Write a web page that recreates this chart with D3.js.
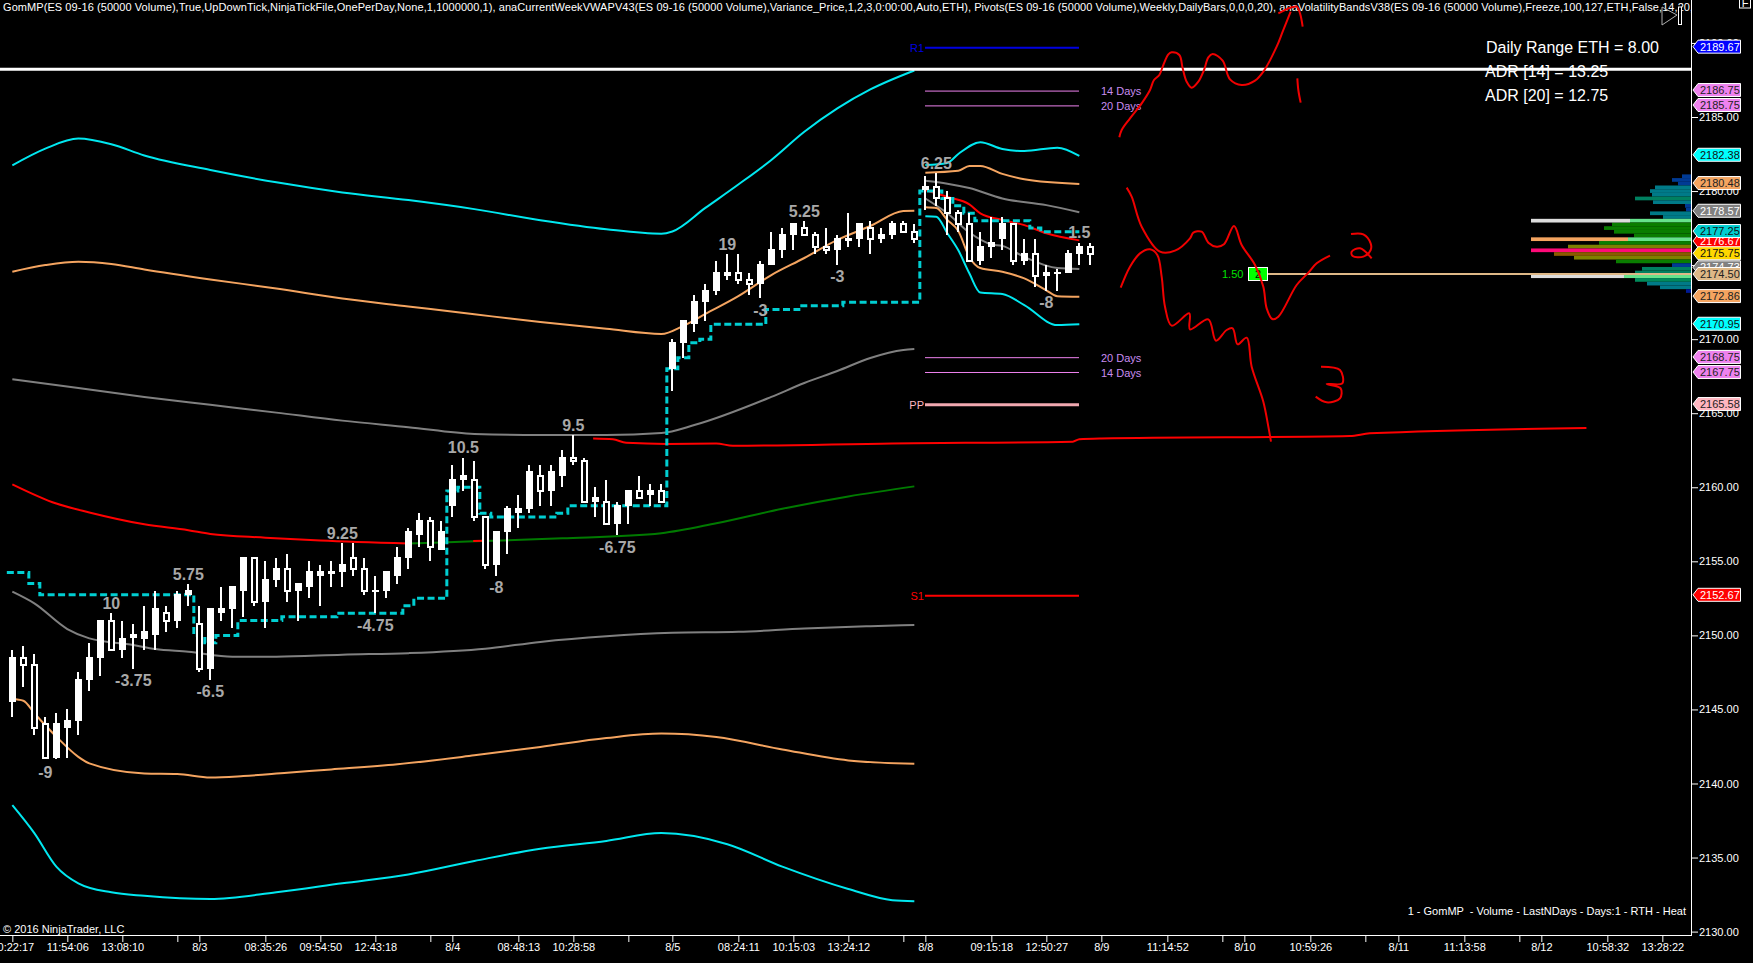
<!DOCTYPE html>
<html><head><meta charset="utf-8">
<script src="https://cdn.jsdelivr.net/npm/d3@7"></script>
<style>
html,body{margin:0;padding:0;background:#000;overflow:hidden}
svg{display:block}
text{font-family:"Liberation Sans",Arial,sans-serif;white-space:pre}
</style></head><body>
<svg id="c" width="1753" height="963"></svg>
<script>
// ---- candles (one entry per bar; bar index = position in array)
const candleHighs=[2149,2149.25,2148.75,2144.5,2144.75,2145,2147.5,2149.5,2151,2151.5,2151,2150.75,2152,2153,2152,2153,2153.5,2152,2151.75,2153.25,
2153.25,2155.25,2155.25,2155,2155.25,2155.5,2153.5,2155,2154.75,2155,2156.25,2156.25,2155.25,2154,2154.25,2156,2157.25,2158.25,2158,2157.75,
2161.5,2162,2161.75,2158,2157,2158.75,2159.5,2161.5,2161.5,2161.5,2162.5,2163.5,2162,2160,2160.5,2159,2159.75,2160.75,2160.25,2160.25,
2170,2171.25,2173,2173.75,2175.25,2175.75,2175.75,2174.5,2175.25,2177.25,2177.5,2177.75,2178,2177.25,2177.5,2177,2178.5,2177.75,2178,2177.5,
2178,2178,2177.75,2181,2181.25,2180,2178.75,2178.5,2177.25,2178.25,2178.25,2177.75,2176.75,2176.75,2175,2174.75,2176,2176.5,2176.5];
const candleTops=[2148.5,2148.5,2148,2144,2144,2144.25,2147,2148.5,2151,2151,2149.75,2150,2150.25,2151.75,2151.5,2152.75,2153,2150.75,2151.75,2151.75,
2153.25,2155.25,2155.25,2153.75,2154.5,2154.5,2153.5,2154.25,2154.25,2154.25,2154.75,2155.25,2154.5,2153,2154.25,2155.25,2157,2157.75,2157.75,2157,
2160.5,2160.75,2160.5,2158,2157,2158.5,2158.5,2161,2160.75,2161,2162,2162,2161.75,2159.25,2159,2158.75,2159.75,2159.75,2159.75,2159.75,
2169.75,2171.25,2172.5,2173.25,2174.5,2174.5,2174.5,2174,2175,2176,2177,2177.75,2177.5,2177,2176.25,2176.75,2176.75,2177.75,2177.5,2177,
2177.75,2177.75,2177.25,2180.25,2180.25,2179.5,2178.5,2177.75,2176.25,2176.5,2177.75,2177.75,2175.75,2175.75,2174.5,2174.5,2175.75,2176.25,2176.25];
const candleBottoms=[2145.5,2148,2143.75,2141.75,2141.75,2143.75,2144.25,2147,2148.5,2149,2149,2149.85,2149.75,2150,2151,2151,2152.75,2147.75,2147.75,2151.5,
2151.75,2153,2152.25,2152.25,2153.75,2153,2153,2153.25,2154,2154.15,2154.25,2154.5,2153,2152.9,2153,2154,2155.25,2156.75,2156,2155.75,
2158.75,2160.5,2158,2154.75,2154.75,2157,2158.25,2158.5,2159.75,2159.75,2160.75,2161.75,2159,2159,2157.5,2157.5,2158.75,2159.25,2159.5,2159,
2168,2169.75,2171,2172.5,2173.25,2174.25,2174,2173.75,2173.75,2175,2176,2177,2177,2176.25,2176,2176,2176.65,2176.75,2176.75,2176.75,
2177,2177.25,2176.75,2180.1,2179.5,2178.5,2177.75,2175.25,2175.25,2176.25,2176.75,2175.25,2175.25,2174.25,2174.25,2174.4,2174.5,2175.75,2175.75];
const candleLows=[2144.5,2146.5,2143.25,2141.75,2141.65,2141.75,2143.25,2146.25,2147.25,2149,2148.5,2147.75,2149,2149,2150.25,2150.5,2152,2147.5,2147,2151,
2150.5,2151.25,2152,2150.5,2153.25,2152.25,2151,2152.5,2152,2153.25,2153.25,2154,2152.75,2151.5,2152.5,2153.5,2154.5,2156,2155,2155.75,
2158,2159.75,2157.75,2154.5,2154,2155.5,2157.25,2158.25,2158.75,2158.75,2160,2161.5,2159,2158,2157.5,2156.75,2157.5,2159.25,2158.75,2159,
2166.5,2168.75,2170.5,2171.25,2173,2174,2173.75,2173,2172.75,2175,2175.5,2176,2177,2175.75,2175.75,2175,2176.25,2176.25,2175.75,2176.5,
2176.75,2177.25,2176.5,2178.75,2179,2177,2177.25,2175.25,2175,2175.5,2176,2175,2175,2173.5,2173.25,2173.25,2174.5,2175,2175];
const hollowBars=[1,2,3,9,14,17,22,25,31,32,38,42,43,48,51,52,54,57,59,66,67,72,73,74,78,81,82,84,85,86,87,91,93,98];

// ---- axis
const priceTicks=[2130,2135,2140,2145,2150,2155,2160,2165,2170,2175,2180,2185,2190];
const timeTickBars=[0,5,10,15,17,23,28,33,38,40,46,51,56,60,66,71,76,81,83,89,94,99,105,110,112,118,123,126,132,137,139,145,150];
const timeTickLabels=["10:22:17","11:54:06","13:08:10","","8/3","08:35:26","09:54:50","12:43:18","","8/4","08:48:13","10:28:58","","8/5","08:24:11","10:15:03","13:24:12","","8/8","09:15:18","12:50:27","8/9","11:14:52","","8/10","10:59:26","","8/11","11:13:58","","8/12","10:58:32","13:28:22"];

// ---- volatility bands, week 1
const bandUpper2Bars=[0,3,6,9,12,18,24,30,36,42,48,54,59,60,63,66,69,72,75,78,82];
const bandUpper2=[2181.73,2182.86,2183.54,2183.16,2182.4,2181.42,2180.59,2179.91,2179.39,2178.78,2178.03,2177.42,2177.12,2177.27,2178.86,2180.44,2182.1,2184,2185.58,2186.86,2188.14];
const bandUpper1Bars=[0,3,6,9,12,18,24,30,36,42,48,54,59,61,63,66,69,72,75,78,81,82];
const bandUpper1=[2174.55,2175,2175.23,2175.08,2174.7,2174.03,2173.42,2172.74,2172.21,2171.68,2171.16,2170.7,2170.35,2170.9,2171.7,2172.9,2174.33,2175.48,2176.7,2177.64,2178.65,2178.67];
const midUpperBars=[0,6,12,18,24,30,36,42,48,54,59,62,69,72,75,78,81,82];
const midUpper=[2167.3,2166.7,2166.1,2165.57,2165.04,2164.5,2164.06,2163.6,2163.53,2163.53,2163.66,2164.2,2166.1,2167.04,2167.85,2168.73,2169.27,2169.33];
const midLowerBars=[0,2,5,7,11,13,16,20,24,30,36,43,48,54,60,66,72,78,82];
const midLower=[2152.95,2152.16,2150.43,2149.8,2149.35,2149.08,2148.9,2148.56,2148.56,2148.7,2148.8,2149.1,2149.56,2149.94,2150.17,2150.24,2150.47,2150.62,2150.7];
const bandLower1Bars=[0,1,2,4,6,7,12,15,18,21,25,29,35,42,48,54,59,64,70,76,82];
const bandLower1=[2145.7,2145.59,2144.74,2143.16,2141.8,2141.36,2140.68,2140.64,2140.4,2140.5,2140.73,2140.95,2141.3,2141.9,2142.47,2143.07,2143.37,2143.14,2142.3,2141.56,2141.33];
const bandLower2Bars=[0,2,4,6,9,12,18,24,30,36,42,48,54,59,65,70,76,80,82];
const bandLower2=[2138.54,2136.65,2134.39,2133.26,2132.65,2132.42,2132.2,2132.65,2133.26,2133.86,2134.77,2135.6,2136.12,2136.65,2135.9,2134.39,2132.88,2132.12,2132.05];
const vwapRedBars=[0,4,7,12,16,18,23,28,36];
const vwapRed=[2160.2,2158.9,2158.3,2157.5,2157.1,2156.85,2156.6,2156.4,2156.2];
const vwapGreenBars=[36,42,50,59,64,70,76,82];
const vwapGreen=[2156.2,2156.35,2156.55,2156.9,2157.57,2158.55,2159.38,2160.06];
const vwapRedShortBars=[41.9,42.8];
const vwapRedShort=[2156.37,2156.39];

// ---- volatility bands, week 2
const b2Upper2Bars=[83,85,86,88,90,92,95,97];
const b2Upper2=[2181.76,2181.9,2182.5,2183.3,2182.84,2182.7,2182.93,2182.37];
const b2Upper1Bars=[83,86,87,88,90,92,97];
const b2Upper1=[2181.24,2181.37,2181.7,2181.7,2181.16,2180.8,2180.48];
const b2MidUpBars=[83,85,87,90,94,97];
const b2MidUp=[2180.7,2180.5,2180.2,2179.5,2179.05,2178.57];
const b2RedBars=[83,85,87,88,90,92,94,97];
const b2Red=[2180.07,2179.6,2179.1,2178.5,2178.05,2177.7,2177.15,2176.67];
const b2MidLowBars=[83,85,87,89,90,92,95,97];
const b2MidLow=[2179.5,2178.5,2177.2,2176.4,2176.3,2175.55,2174.8,2174.73];
const b2Lower1Bars=[83,84,85,86,87,88,90,92,94,95,97];
const b2Lower1=[2178.9,2178.85,2178.05,2177.3,2175.55,2174.8,2174.55,2174.1,2173.3,2172.9,2172.86];
const b2Lower2Bars=[83,84,85,86,87,88,90,92,95,97];
const b2Lower2=[2178.3,2178.27,2177.15,2176,2174.45,2173.15,2173.05,2172.3,2170.95,2171];

// ---- long red weekly VWAP
const longRedBars=[52.8,54.6,55.8,59.5,64,65.5,80,96.4,97,99,121.6,123.4,143.1];
const longRed=[2163.3,2163.24,2163,2162.93,2162.96,2162.8,2162.96,2163.08,2163.25,2163.3,2163.46,2163.64,2164];

// ---- stepped dashed line
const stepBars=[-0.5,1.5,2.5,16.5,17.5,18.5,20.5,24.5,29.5,35.5,36.5,39.5,40.5,42.5,43.5,49.5,50.5,59.5,60.5,61.5,62.5,63.5,68.5,71.5,75.5,82.5,84.5,85.5,86.5,87.5,92.5,93.5,97];
const stepPrices=[2154.25,2153.5,2152.75,2150,2149.5,2150,2151,2151.25,2151.5,2152,2152.5,2159.75,2160,2158.25,2158,2158.25,2158.75,2168,2168.75,2169.75,2170,2171,2172,2172.25,2172.5,2180,2179.5,2179,2178.5,2178,2177.5,2177.25,2177.25];

// ---- swing labels
const swingTexts=["-9","10","-3.75","5.75","-6.5","9.25","-4.75","10.5","-8","9.5","-6.75","19","-3","5.25","-3","6.25","-8","1.5"];
const swingBars=[3,9,11,16,18,30,33,41,44,51,55,65,68,72,75,84,94,97];
const swingPrices=[2140.73,2152.2,2146.94,2154.14,2146.2,2156.93,2150.7,2162.67,2153.27,2164.2,2155.92,2176.42,2171.92,2178.67,2174.22,2181.91,2172.46,2177.19];

// ---- pivots
const pivotNames=["R1","","","","","PP","S1"];
const pivotSide=["","14 Days","20 Days","20 Days","14 Days","",""];
const pivotPrices=[2189.67,2186.75,2185.75,2168.75,2167.75,2165.58,2152.67];
const pivotColors=["#0000e0","#ee82ee","#ee82ee","#ee82ee","#ee82ee","#f0a8b0","#ff0000"];
const pivotWidths=[2,1,1,1,1,3,2];

// ---- right-side price tags
const tagLabels=["2189.67","2186.75","2185.75","2182.38","2180.48","2178.57","2176.67","2177.25","2175.75","2174.73","2174.50","2172.86","2170.95","2168.75","2167.75","2165.58","2152.67"];
const tagLevels=[2189.75,2186.82,2185.81,2182.45,2180.54,2178.67,2176.63,2177.3,2175.8,2174.85,2174.4,2172.91,2171.04,2168.8,2167.78,2165.62,2152.74];
const tagFills=["#0000ff","#ee82ee","#ee82ee","#00ffff","#f4a460","#808080","#ff0000","#00ced1","#ffd700","#808080","#deb887","#f4a460","#00ffff","#ee82ee","#ee82ee","#ffb6c1","#ff0000"];
const tagInk=["#fff","#222","#222","#111","#222","#fff","#fff","#111","#111","#fff","#222","#222","#111","#222","#222","#222","#fff"];

// ---- volume profile
const profilePrices=[2181,2180.75,2180.5,2180.25,2180,2179.75,2179.5,2179.25,2179,2178.75,2178.5,2178.25,2178,2177.75,2177.5,2177.25,2177,2176.75,2176.5,2176.25,2176,2175.75,2175.5,2175.25,2175,2174.75,2174.5,2174.25,2174,2173.75,2173.5,2173.25];
const profileVolumes=[9,19,13,36,41,39,56,38,6,5,41,28,61,79,87,77,57,63,92,123,160,137,117,75,19,49,56,67,56,44,31,5];
const profileColors=["#003a94","#003a94","#003a94","#007a88","#007a88","#007a88","#008060","#007a88","#003a94","#003a94","#007a88","#007a88","#66e28c","#0a7d00","#0a7d00","#0a7d00","#0a7d00","#66e28c","#0a7d00","#7f8000","#ff0a78","#8b5a00","#7f8000","#0a7d00","#003a94","#008060","#008060","#66e28c","#008a5a","#007a88","#007a88","#001a94"];
const vaPrices=[2178,2176.75,2174.25];
const vaColors=["#dcdcdc","#f4a460","#dcdcdc"];
const pocPrice=2174.4;

// ---- freehand ink, in crop coordinates
const inkStrokes=[
[[58,412],[65,390],[90,355],[125,310],[150,270],[162,240],[178,225],[190,195],[205,163],[215,157],[238,165],[248,205],[260,245],[275,263],[295,245],[312,210],[325,172],[338,162],[368,182],[390,238],[425,255],[465,242],[490,215],[530,140],[548,95],[572,35]],
[[535,40],[590,20],[600,40],[608,80]],
[[592,235],[595,270],[602,308]],
[[80,563],[95,590],[125,680],[180,755],[225,752],[270,715],[280,698],[305,695],[325,728],[350,740],[372,733],[402,678],[425,735],[465,795],[490,860],[500,925],[517,957],[535,950],[590,855],[625,818],[650,790],[690,767]],
[[753,702],[790,703],[812,730],[812,750],[790,770],[758,768],[755,755],[780,745],[815,775]],
[[62,863],[90,800],[120,760],[150,748],[172,765],[185,830],[195,920],[215,977],[268,940],[270,988],[325,958],[348,1022],[380,990],[398,985],[413,1033],[440,1013],[455,1100],[490,1205],[505,1280],[513,1325]],
[[663,1100],[720,1110],[727,1150],[680,1152],[722,1165],[720,1195],[680,1207],[647,1190]]];

const headerText="GomMP(ES 09-16 (50000 Volume),True,UpDownTick,NinjaTickFile,OnePerDay,None,1,1000000,1), anaCurrentWeekVWAPV43(ES 09-16 (50000 Volume),Variance_Price,1,2,3,0:00:00,Auto,ETH), Pivots(ES 09-16 (50000 Volume),Weekly,DailyBars,0,0,0,20), anaVolatilityBandsV38(ES 09-16 (50000 Volume),Freeze,100,127,ETH,False,14,20,";
const rangeTexts=["Daily Range ETH = 8.00","ADR [14] = 13.25","ADR [20] = 12.75"];

// ---- scales
const W=1753,H=963,axisX=1691,axisY=935;
const x=d3.scaleLinear().domain([0,150]).range([12.33,1662.33]);
const y=d3.scaleLinear().domain([2185,2130]).range([117,931.6]);
const vol=d3.scaleLinear().domain([0,160]).range([axisX,1531]);
const inkX=d3.scaleLinear().domain([0,1380]).range([1100,1560]);
const inkY=d3.scaleLinear().domain([0,1380]).range([0,460]);

const svg=d3.select("#c");
svg.append("rect").attr("width",W).attr("height",H).attr("fill","#000");
svg.append("defs").append("clipPath").attr("id","plot").append("rect").attr("width",axisX).attr("height",axisY);
const plot=svg.append("g").attr("clip-path","url(#plot)");

// header
plot.append("text").attr("x",3).attr("y",11).attr("fill","#fff").attr("font-size",11).attr("letter-spacing",0.07).text(headerText);

// text block
plot.selectAll(".rt").data(rangeTexts).join("text").attr("x",(d,i)=>i?1485:1486).attr("y",(d,i)=>47+i*24).attr("dy","0.36em")
 .attr("fill","#fff").attr("font-size",16).text(d=>d);

// pivots
const pivotX0=925,pivotX1=1079;
pivotPrices.forEach((p,i)=>{
 plot.append("line").attr("x1",pivotX0).attr("x2",pivotX1).attr("y1",y(p)).attr("y2",y(p)).attr("stroke",pivotColors[i]).attr("stroke-width",pivotWidths[i]);
 if(pivotNames[i]) plot.append("text").attr("x",924).attr("text-anchor","end").attr("y",y(p)).attr("dy","0.36em").attr("font-size",11)
   .attr("fill",i==5?"#ffb6c1":pivotColors[i]).text(pivotNames[i]);
 if(pivotSide[i]) plot.append("text").attr("x",1101).attr("y",y(p)).attr("dy","0.4em").attr("font-size",11).attr("fill","#c88cf0").text(pivotSide[i]);
});

// lines
const lineGen=d3.line().curve(d3.curveMonotoneX);
function band(bars,vals,color,w){
 plot.append("path").attr("d",lineGen(bars.map((b,i)=>[x(b),y(vals[i])]))).attr("fill","none").attr("stroke",color).attr("stroke-width",w||2);
}
const CY="#00e8f0",OR="#f4a460",GY="#808080",RD="#ff0000",GN="#007a00";
band(bandUpper2Bars,bandUpper2,CY);band(bandUpper1Bars,bandUpper1,OR);band(midUpperBars,midUpper,GY);
band(midLowerBars,midLower,GY);band(bandLower1Bars,bandLower1,OR);band(bandLower2Bars,bandLower2,CY);
band(vwapGreenBars,vwapGreen,GN);band(vwapRedBars,vwapRed,RD);band(vwapRedShortBars,vwapRedShort,RD);
band(b2Upper2Bars,b2Upper2,CY);band(b2Upper1Bars,b2Upper1,OR);band(b2MidUpBars,b2MidUp,GY);
band(b2MidLowBars,b2MidLow,GY);band(b2Lower1Bars,b2Lower1,OR);band(b2Lower2Bars,b2Lower2,CY);
band(b2RedBars,b2Red,RD);band(longRedBars,longRed,RD);

// stepped
plot.append("path").attr("d",d3.line().curve(d3.curveStepAfter)(stepBars.map((b,i)=>[x(b),y(stepPrices[i])])))
 .attr("fill","none").attr("stroke","#00ced1").attr("stroke-width",3).attr("stroke-dasharray","7,3.5");

// candles
const cg=plot.append("g").attr("shape-rendering","crispEdges");
const hollowSet=new Set(hollowBars);
candleHighs.forEach((h,i)=>{
 const cx=Math.round(x(i));
 cg.append("rect").attr("x",cx-1).attr("width",2).attr("y",y(h)).attr("height",Math.max(1,y(candleLows[i])-y(h))).attr("fill","#fff");
 const t=y(candleTops[i]),b=y(candleBottoms[i]);
 if(hollowSet.has(i)) cg.append("rect").attr("x",cx-2.5).attr("width",5).attr("y",t).attr("height",Math.max(1,b-t)).attr("fill","#000").attr("stroke","#fff").attr("stroke-width",2);
 else cg.append("rect").attr("x",cx-3).attr("width",7).attr("y",t-1).attr("height",Math.max(2,b-t+1)).attr("fill","#fff");
});

// swing labels
plot.selectAll(".sw").data(swingTexts).join("text").attr("x",(d,i)=>x(swingBars[i])).attr("y",(d,i)=>y(swingPrices[i])).attr("dy","0.36em")
 .attr("text-anchor","middle").attr("font-size",16).attr("font-weight","bold").attr("fill","#a8a8a8").text(d=>d);

// volume profile
const rowH=3.7;
plot.selectAll(".pf").data(profilePrices).join("rect").attr("x",(d,i)=>vol(profileVolumes[i])).attr("width",(d,i)=>axisX-vol(profileVolumes[i]))
 .attr("y",d=>y(d)-rowH/2).attr("height",rowH).attr("fill",(d,i)=>profileColors[i]);
vaPrices.forEach((p,i)=>{
 const v=profileVolumes[profilePrices.indexOf(p)];
 plot.append("rect").attr("x",vol(160)).attr("width",vol(v)-vol(160)).attr("y",y(p)-rowH/2).attr("height",rowH).attr("fill",vaColors[i]);
});

// POC line and marker
plot.append("line").attr("x1",1267).attr("x2",axisX).attr("y1",y(pocPrice)).attr("y2",y(pocPrice)).attr("stroke","#deb887").attr("stroke-width",2);
plot.append("rect").attr("x",1248.5).attr("y",y(pocPrice)-6.5).attr("width",19).attr("height",13).attr("fill","#00ff00").attr("stroke","#fff").attr("stroke-width",1);
plot.append("text").attr("x",1258).attr("y",y(pocPrice)).attr("dy","0.36em").attr("text-anchor","middle").attr("font-size",11).attr("fill","#000").text("2");
plot.append("text").attr("x",1222).attr("y",y(pocPrice)).attr("dy","0.36em").attr("font-size",11).attr("fill","#00e000").text("1.50");

// white line
plot.append("line").attr("x1",0).attr("x2",axisX).attr("y1",69.3).attr("y2",69.3).attr("stroke","#fff").attr("stroke-width",3);

// notes
plot.append("text").attr("x",3).attr("y",929).attr("dy","0.36em").attr("font-size",11).attr("fill","#fff").text("© 2016 NinjaTrader, LLC");
plot.append("text").attr("x",1686).attr("y",911).attr("dy","0.36em").attr("text-anchor","end").attr("font-size",11).attr("fill","#fff").text("1 - GomMP  - Volume - LastNDays - Days:1 - RTH - Heat");

// playback icon
plot.append("path").attr("d",d3.line()([[1662,7],[1677,15],[1662,25],[1662,7]])).attr("fill","none").attr("stroke","#b0b0b0").attr("stroke-width",1);
plot.append("rect").attr("x",1678.5).attr("y",7).attr("width",3).attr("height",17.5).attr("fill","#000").attr("stroke","#fff").attr("stroke-width",1);

// ink
const inkLine=d3.line().curve(d3.curveCatmullRom.alpha(0.5));
svg.selectAll(".ink").data(inkStrokes).join("path").attr("d",s=>inkLine(s.map(p=>[inkX(p[0]),inkY(p[1])])))
 .attr("fill","none").attr("stroke","#f00000").attr("stroke-width",2);

// axes
const ay=d3.axisRight(y).tickValues(priceTicks).tickSize(7).tickPadding(1).tickFormat(d3.format(".2f"));
const gy=svg.append("g").attr("transform",`translate(${axisX},0)`).call(ay);
gy.select(".domain").remove();
gy.selectAll("line").attr("stroke","#fff");
gy.selectAll("text").attr("fill","#fff").attr("font-size",11).style("font-family",'"Liberation Sans",Arial,sans-serif');
svg.append("line").attr("x1",axisX+.5).attr("x2",axisX+.5).attr("y1",0).attr("y2",axisY).attr("stroke","#fff").attr("stroke-width",1);

const ax=d3.axisBottom(x).tickValues(timeTickBars).tickSize(7).tickPadding(1).tickFormat((d,i)=>timeTickLabels[i]);
const gx=svg.append("g").attr("transform",`translate(0,${axisY})`).call(ax);
gx.select(".domain").remove();
gx.selectAll("line").attr("stroke","#fff");
gx.selectAll("text").attr("fill","#fff").attr("font-size",11).style("font-family",'"Liberation Sans",Arial,sans-serif');
svg.append("line").attr("x1",0).attr("x2",axisX+1).attr("y1",axisY+.5).attr("y2",axisY+.5).attr("stroke","#fff").attr("stroke-width",1);

// tags
tagLabels.forEach((t,i)=>{
 const ty=y(tagLevels[i]);
 const tg=svg.append("g");
 tg.append("path").attr("d",d3.line()([[1693,ty],[1698,ty-6.5],[1740.5,ty-6.5],[1740.5,ty+6.5],[1698,ty+6.5],[1693,ty]])).attr("fill",tagFills[i]).attr("stroke","#fff").attr("stroke-width",1);
 tg.append("text").attr("x",1700).attr("y",ty).attr("dy","0.36em").attr("font-size",11).attr("fill",tagInk[i]).text(t);
});

// F box
svg.append("rect").attr("x",1739.5).attr("y",-3).attr("width",11).attr("height",11).attr("fill","#000").attr("stroke","#fff");
svg.append("text").attr("x",1745).attr("y",7).attr("text-anchor","middle").attr("font-size",11).attr("fill","#fff").text("F");
</script>
</body></html>
